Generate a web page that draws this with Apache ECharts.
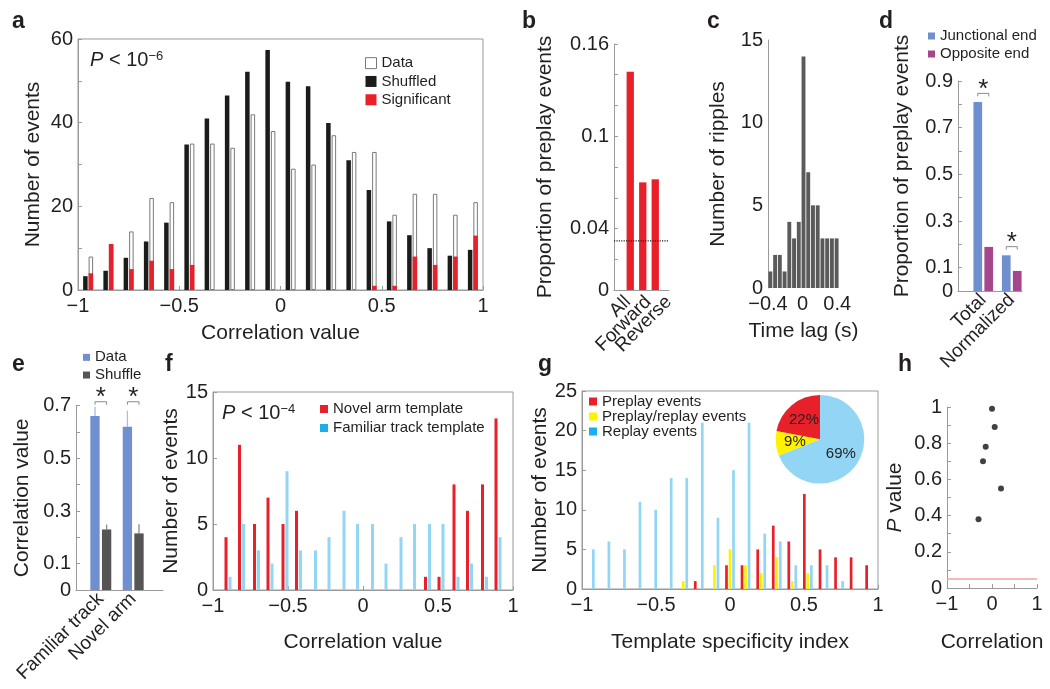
<!DOCTYPE html>
<html><head><meta charset="utf-8">
<script src="https://cdn.jsdelivr.net/npm/echarts@6/dist/echarts.min.js"></script>
<style>html,body{margin:0;padding:0;background:#fff}#c{width:1050px;height:689px}</style>
</head><body><div id="c"></div>
<script>
// ---------------- DATA ----------------
// a
const aCenters = [-0.95,-0.85,-0.75,-0.65,-0.55,-0.45,-0.35,-0.25,-0.15,-0.05,0.05,0.15,0.25,0.35,0.45,0.55,0.65,0.75,0.85,0.95];
const aShuffled = [3.3,4.6,7.7,11.6,16.1,34.8,41,46.5,52.2,57.4,49.8,48.7,39.9,31,23.9,16.4,13.1,10,8.2,9.6];
const aData = [8,11,14,22,21,35,35,34,42,38,29,30,37,33,33,18,23,23,18,21];
const aSignificant = [4,11,5,7,5,6,0,0,0,0,0,0,0,0,1,1,8,6,8,13];
// b
const bCategories = ['All','Forward','Reverse'];
const bValues = [0.142,0.070,0.072];
const bChance = 0.032;
const bYLabels = [0,0.04,0.1,0.16];
// c
const cBins = ['-0.37','-0.32','-0.26','-0.21','-0.15','-0.10','-0.04','0.01','0.06','0.12','0.17','0.23','0.28','0.34','0.39'];
const cCounts = [1,2,2,1,4,3,4,14,7,5,5,3,3,3,3];
// d
const dCategories = ['Total','Normalized'];
const dJunctional = [0.81,0.153];
const dOpposite = [0.189,0.086];
const dBracket = [0.847,0.19];
// e
const eCategories = ['Familiar track','Novel arm'];
const eData = [0.661,0.620];
const eDataErr = [0.035,0.061];
const eShuffle = [0.230,0.215];
const eShuffleErr = [0.019,0.035];
const eBracket = [0.715,0.715];
// f
const fCenters = [-0.90,-0.81,-0.71,-0.62,-0.52,-0.43,-0.33,-0.24,-0.14,-0.05,0.05,0.14,0.24,0.33,0.43,0.52,0.62,0.71,0.81,0.90];
const fNovel = [4,11,5,7,5,6,0,0,0,0,0,0,0,0,1,1,8,6,8,13];
const fFamiliar = [1,5,3,2,9,3,3,4,6,5,5,2,4,5,5,5,1,2,1,4];
// g
const gCenters = [-0.947,-0.842,-0.737,-0.632,-0.526,-0.421,-0.316,-0.211,-0.105,0,0.105,0.211,0.316,0.421,0.526,0.632,0.737,0.842,0.947];
const gPreplay = [0,0,0,0,0,0,0,1,0,3,3,5,8,6,12,5,4,4,3];
const gBoth = [0,0,0,0,0,0,1,0,3,5,3,2,4,1,2,0,0,0,0];
const gReplay = [5,6,5,11,10,14,14,21,9,15,21,7,6,3,3,3,1,0,0];
const gPieNames = ['Replay events','Preplay/replay events','Preplay events'];
const gPieValues = [69,9,22];
// h
const hX = [0.0,0.06,-0.14,-0.2,0.2,-0.3];
const hY = [0.99,0.89,0.78,0.70,0.55,0.38];
const hThreshold = 0.05;

// ---------------- STYLE ----------------
const FONT = '"Liberation Sans", Arial, Helvetica, sans-serif';
const TXT = '#231f20';
const AX = '#9a9a9a';
const RED = '#e8202a';
const LBLUE = '#93d5f4';
const SBLUE = '#6f8fd0';
const MAG = '#a6468c';
const YEL = '#fff200';

function fmt(v){ const a=Math.abs(v); const s=String(+a.toFixed(4)); return v< -1e-12 ? '\u2212'+s : s; }
function near(v,list){ return list.some(t=>Math.abs(t-v)<1e-9); }
function merge(a,b){ const o=Object.assign({},a); for(const k in b){ const bv=b[k]; if(bv&&typeof bv==='object'&&!Array.isArray(bv)&&a&&a[k]&&typeof a[k]==='object'&&!Array.isArray(a[k])) o[k]=merge(a[k],bv); else o[k]=bv; } return o; }

const grids=[], xAxes=[], yAxes=[], series=[], legends=[], graphics=[];
function addGrid(l,t,w,h,border){ grids.push({left:l,top:t,width:w,height:h,show:!!border,borderColor:AX,borderWidth:1,backgroundColor:'transparent',containLabel:false,outerBoundsMode:'none'}); return grids.length-1; }
function addX(c){ xAxes.push(c); return xAxes.length-1; }
function addY(c){ yAxes.push(c); return yAxes.length-1; }
const baseVal = {type:'value', axisLine:{show:true,onZero:false,lineStyle:{color:AX,width:1}}, axisTick:{show:true,inside:true,length:4,lineStyle:{color:AX,width:1}}, splitLine:{show:false}, axisLabel:{color:TXT,fontSize:20,fontFamily:FONT,margin:5,formatter:fmt}, nameLocation:'middle', nameTextStyle:{color:TXT,fontSize:21,fontFamily:FONT}};
const lineOnly = {type:'value', min:0, max:1, position:'bottom', axisLine:{show:true,onZero:false,lineStyle:{color:AX,width:1}}, axisTick:{show:false}, axisLabel:{show:false}, splitLine:{show:false}};
function catAxis(g,data,margin){ return {type:'category', gridIndex:g, position:'bottom', data:data, axisLine:{show:false}, axisTick:{show:false}, axisLabel:{rotate:45, interval:0, color:TXT, fontSize:19, fontFamily:FONT, margin:margin||6}}; }
function legend(left,top,names,iw,lh,extra){ return Object.assign({orient:'vertical',left:left,top:top,padding:0,itemGap:0,itemWidth:iw,itemHeight:iw,icon:'rect',selectedMode:false,data:names,textStyle:{fontSize:15,fontFamily:FONT,color:TXT,lineHeight:lh}},extra||{}); }
function bracketSeries(xi,yi,levels,half){
  return {type:'custom', xAxisIndex:xi, yAxisIndex:yi, silent:true, z:5, data:levels.map((v,i)=>[i,v]),
    renderItem:(p,api)=>{ const c=api.coord([api.value(0),api.value(1)]);
      return {type:'group',children:[
        {type:'polyline',shape:{points:[[c[0]-half,c[1]+3],[c[0]-half,c[1]],[c[0]+half,c[1]],[c[0]+half,c[1]+3]]},style:{stroke:'#8a8a8a',fill:null,lineWidth:1}},
        {type:'text',style:{text:'*',x:c[0],y:c[1]-4,align:'center',verticalAlign:'middle',font:'26px '+FONT,fill:TXT}}]}; }};
}
function errSeries(xi,yi,vals,errs,offset,color){
  return {type:'custom', xAxisIndex:xi, yAxisIndex:yi, silent:true, z:1, data:vals.map((v,i)=>[i,v,v+errs[i]]),
    renderItem:(p,api)=>{ const a=api.coord([api.value(0),api.value(1)]); const b=api.coord([api.value(0),api.value(2)]);
      return {type:'line',shape:{x1:a[0]+offset,y1:a[1],x2:b[0]+offset,y2:b[1]},style:{stroke:color,lineWidth:1.3}}; }};
}

// ---------- panel a ----------
const gA = addGrid(78,39,405,251,true);
const xA = addX(merge(baseVal,{gridIndex:gA,position:'bottom',min:-1,max:1,interval:0.5,name:'Correlation value',nameGap:33,axisLabel:{margin:6}}));
const xA2 = addX({type:'value',gridIndex:gA,position:'bottom',min:-1,max:1,show:false});
const yA = addY(merge(baseVal,{gridIndex:gA,min:0,max:60,interval:10,name:'Number of events',nameGap:34,axisLabel:{formatter:v=>v%20===0?String(v):''}}));
series.push({type:'bar',name:'Shuffled',xAxisIndex:xA,yAxisIndex:yA,data:aCenters.map((c,i)=>[c,aShuffled[i]]),barWidth:4.5,barGap:'22%',itemStyle:{color:'#1b1b1b'}});
series.push({type:'bar',name:'Data',xAxisIndex:xA,yAxisIndex:yA,data:aCenters.map((c,i)=>[c,aData[i]]),barWidth:4.5,barGap:'22%',itemStyle:{color:'#ffffff',borderColor:'#7a7a7a',borderWidth:1}});
series.push({type:'bar',name:'_slot',xAxisIndex:xA2,yAxisIndex:yA,data:[],barWidth:4.5,barGap:'22%'});
series.push({type:'bar',name:'Significant',xAxisIndex:xA2,yAxisIndex:yA,data:aCenters.map((c,i)=>[c,aSignificant[i]]),barWidth:4.5,barGap:'22%',itemStyle:{color:RED}});
legends.push(legend(365,54,[{name:'Data',itemStyle:{color:'#fff',borderColor:'#777',borderWidth:1}},'Shuffled','Significant'],11,18.3));

// ---------- panel b ----------
const gB1 = addGrid(614,44,55,246);
const xB1 = addX({type:'category',gridIndex:gB1,position:'bottom',data:['',''],boundaryGap:false,axisLine:{show:true,lineStyle:{color:AX}},axisTick:{show:false},axisLabel:{show:false}});
const yB1 = addY(merge(baseVal,{gridIndex:gB1,min:0,max:0.16,interval:0.02,name:'Proportion of preplay events',nameGap:58,axisLabel:{formatter:v=>near(v,bYLabels)?fmt(v):''}}));
series.push({type:'line',xAxisIndex:xB1,yAxisIndex:yB1,data:[bChance,bChance],symbol:'none',silent:true,lineStyle:{type:'dotted',color:'#222',width:1.2}});
const gB2 = addGrid(624,44,37.5,246);
const xB2 = addX(merge(catAxis(gB2,bCategories),{axisLabel:{show:false}}));
const yB2 = addY({type:'value',gridIndex:gB2,min:0,max:0.16,show:false});
series.push({type:'bar',xAxisIndex:xB2,yAxisIndex:yB2,data:bValues,barWidth:7.3,itemStyle:{color:RED}});
// label row for b (labels are spread wider than the bars in the original)
const gB3 = addGrid(617.5,44,61.5,246);
const xB3 = addX(catAxis(gB3,bCategories,9));
const yB3 = addY({type:'value',gridIndex:gB3,min:0,max:0.16,show:false});

// ---------- panel c ----------
const gC = addGrid(768,40,71,248);
const xC = addX({type:'category',gridIndex:gC,position:'bottom',data:cBins,show:false});
const xC2 = addX(merge(baseVal,{gridIndex:gC,position:'bottom',min:-0.4,max:0.42,interval:0.4,axisLine:{show:false},axisTick:{show:false},name:'Time lag (s)',nameGap:33,axisLabel:{margin:6,formatter:v=>near(v,[-0.4,0,0.4])?fmt(v):''}}));
const yC = addY(merge(baseVal,{gridIndex:gC,min:0,max:15,interval:5,name:'Number of ripples',nameGap:39,axisTick:{show:false}}));
series.push({type:'bar',xAxisIndex:xC,yAxisIndex:yC,data:cCounts,barCategoryGap:'18%',itemStyle:{color:'#5a5a5a'}});

// ---------- panel d ----------
const oddTenths = v=>{ const k=Math.round(v*10); return (k===0||k%2===1)?fmt(v):''; };
const gD1 = addGrid(958,81,64,210);
const xD1 = addX(Object.assign({gridIndex:gD1},lineOnly));
const yD1 = addY(merge(baseVal,{gridIndex:gD1,min:0,max:0.9,interval:0.1,name:'Proportion of preplay events',nameGap:45,nameTextStyle:{padding:[0,0,0,40]},axisLabel:{formatter:oddTenths}}));
const gD2 = addGrid(969,81,57,210);
const xD2 = addX(catAxis(gD2,dCategories));
const yD2 = addY({type:'value',gridIndex:gD2,min:0,max:0.9,show:false});
series.push({type:'bar',name:'Junctional end',xAxisIndex:xD2,yAxisIndex:yD2,data:dJunctional,barWidth:8.7,barGap:'26%',itemStyle:{color:SBLUE}});
series.push({type:'bar',name:'Opposite end',xAxisIndex:xD2,yAxisIndex:yD2,data:dOpposite,barWidth:8.7,barGap:'26%',itemStyle:{color:MAG}});
series.push(bracketSeries(xD2,yD2,dBracket,5.5));
legends.push(legend(928,27,['Junctional end','Opposite end'],7,18));

// ---------- panel e ----------
const gE1 = addGrid(76,405.7,87,184.3);
const xE1 = addX(Object.assign({gridIndex:gE1},lineOnly));
const yE1 = addY(merge(baseVal,{gridIndex:gE1,min:0,max:0.7,interval:0.1,name:'Correlation value',nameGap:43,axisLabel:{formatter:oddTenths}}));
const gE2 = addGrid(84.6,405.7,64.8,184.3);
const xE2 = addX(catAxis(gE2,eCategories));
const yE2 = addY({type:'value',gridIndex:gE2,min:0,max:0.7,show:false});
series.push({type:'bar',name:'Data',xAxisIndex:xE2,yAxisIndex:yE2,data:eData,barWidth:9.3,barGap:'25%',itemStyle:{color:SBLUE}});
series.push({type:'bar',name:'Shuffle',xAxisIndex:xE2,yAxisIndex:yE2,data:eShuffle,barWidth:9.3,barGap:'25%',itemStyle:{color:'#555555'}});
series.push(errSeries(xE2,yE2,eData,eDataErr,-5.8,'#a9bde8'));
series.push(errSeries(xE2,yE2,eShuffle,eShuffleErr,5.8,'#8a8a8a'));
series.push(bracketSeries(xE2,yE2,eBracket,5.8));
legends.push(legend(83,348.5,[{name:'Data',itemStyle:{color:SBLUE,borderWidth:0}},'Shuffle'],7,17.7));

// ---------- panel f ----------
const gF = addGrid(213,392,300,198,true);
const xF = addX(merge(baseVal,{gridIndex:gF,position:'bottom',min:-1,max:1,interval:0.5,name:'Correlation value',nameGap:42,axisLabel:{margin:6}}));
const yF = addY(merge(baseVal,{gridIndex:gF,min:0,max:15,interval:5,name:'Number of events',nameGap:27}));
series.push({type:'bar',name:'Novel arm template',xAxisIndex:xF,yAxisIndex:yF,data:fCenters.map((c,i)=>[c,fNovel[i]]),barWidth:3,barGap:'33%',itemStyle:{color:RED}});
series.push({type:'bar',name:'Familiar track template',xAxisIndex:xF,yAxisIndex:yF,data:fCenters.map((c,i)=>[c,fFamiliar[i]]),barWidth:3,barGap:'33%',itemStyle:{color:LBLUE}});
legends.push(legend(320,399.5,['Novel arm template',{name:'Familiar track template',itemStyle:{color:'#1aaeea'}}],8,19));

// ---------- panel g ----------
const gG = addGrid(582,391,296,198,true);
const xG = addX(merge(baseVal,{gridIndex:gG,position:'bottom',min:-1,max:1,interval:0.5,name:'Template specificity index',nameGap:43,axisLabel:{margin:6}}));
const yG = addY(merge(baseVal,{gridIndex:gG,min:0,max:25,interval:5,name:'Number of events',nameGap:26}));
series.push({type:'bar',name:'Preplay events',xAxisIndex:xG,yAxisIndex:yG,data:gCenters.map((c,i)=>[c,gPreplay[i]]),barWidth:2.7,barGap:'30%',itemStyle:{color:RED}});
series.push({type:'bar',name:'Preplay/replay events',xAxisIndex:xG,yAxisIndex:yG,data:gCenters.map((c,i)=>[c,gBoth[i]]),barWidth:2.7,barGap:'30%',itemStyle:{color:YEL}});
series.push({type:'bar',name:'Replay events',xAxisIndex:xG,yAxisIndex:yG,data:gCenters.map((c,i)=>[c,gReplay[i]]),barWidth:2.7,barGap:'30%',itemStyle:{color:LBLUE}});
series.push({type:'pie',center:[820,439.3],radius:44.3,startAngle:90,clockwise:true,silent:true,
  data:gPieNames.map((n,i)=>({name:n,value:gPieValues[i],itemStyle:{color:[LBLUE,YEL,RED][i]}})),
  label:{show:true,position:'inside',formatter:p=>p.value+'%',fontSize:15,fontFamily:FONT,color:TXT},labelLine:{show:false},itemStyle:{borderWidth:0}});
legends.push(legend(589,394,['Preplay events',{name:'Preplay/replay events',itemStyle:{color:YEL}},{name:'Replay events',itemStyle:{color:'#1aaeea'}}],8,14.2));

// ---------- panel h ----------
const gH = addGrid(947,407,90,181);
const xH = addX(merge(baseVal,{gridIndex:gH,position:'bottom',min:-1,max:1,interval:0.5,name:'Correlation',nameGap:44,axisLabel:{margin:6,formatter:v=>near(v,[-1,0,1])?fmt(v):''}}));
const yH = addY(merge(baseVal,{gridIndex:gH,min:0,max:1,interval:0.1,name:'{i|P} value',nameGap:41,nameTextStyle:{rich:{i:{fontStyle:'italic',fontSize:21,fontFamily:FONT,color:TXT}}},axisLabel:{formatter:v=>{const k=Math.round(v*10);return k%2===0?fmt(k/10):'';}}}));
series.push({type:'scatter',xAxisIndex:xH,yAxisIndex:yH,data:hX.map((x,i)=>[x,hY[i]]),symbolSize:6,itemStyle:{color:'#111'},
  markLine:{silent:true,symbol:'none',label:{show:false},lineStyle:{color:'#f4a0a0',width:1.5,type:'solid'},data:[{yAxis:hThreshold}]}});

// ---------- texts ----------
[['a',12,23.5],['b',522,23.5],['c',707,23.5],['d',879,23.5],['e',12,366],['f',165,366],['g',538,366],['h',898,366]].forEach(t=>{
  graphics.push({type:'text',left:t[1],top:t[2]-13,style:{text:t[0],font:'bold 23px '+FONT,fill:TXT}});
});
function pText(x,y,exp){ graphics.push({type:'text',left:x,top:y,style:{text:'{i|P} < 10{s|\u2212'+exp+'}',font:'20px '+FONT,fill:TXT,rich:{i:{fontStyle:'italic',fontSize:20,fontFamily:FONT,fill:TXT},s:{fontSize:13,fontFamily:FONT,fill:TXT,verticalAlign:'top'}}}}); }
pText(90,50,6);
pText(222,403,4);

const chart = echarts.init(document.getElementById('c'),null,{renderer:'canvas'});
chart.setOption({animation:false,backgroundColor:'#ffffff',textStyle:{fontFamily:FONT},grid:grids,xAxis:xAxes,yAxis:yAxes,series:series,legend:legends,graphic:graphics});
</script></body></html>
